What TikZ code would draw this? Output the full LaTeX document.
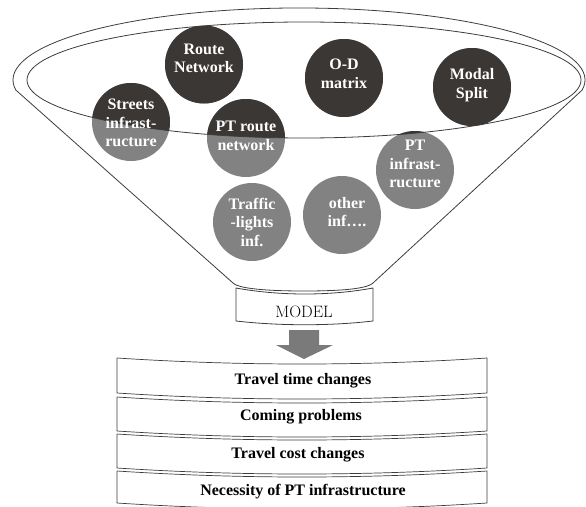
\documentclass[tikz,border=0pt]{standalone}
\usepackage{fontspec}
\newfontfamily\tnr{Liberation Serif}
\definecolor{darkc}{HTML}{3A3735}
\definecolor{grayc}{HTML}{828282}
\definecolor{arrowc}{HTML}{7A7A7A}
\definecolor{linec}{HTML}{3C3C3C}
\tikzset{
  circ/.style={circle, minimum size=78pt, inner sep=0pt, fill=grayc},
  ctext/.style={text=white, align=center, inner sep=0pt, font=\tnr\bfseries\fontsize{16}{18.5}\selectfont},
  btext/.style={text=black, inner sep=0pt, font=\tnr\bfseries\fontsize{16}{18.5}\selectfont},
  fline/.style={draw=linec, line width=0.8pt},
}
\begin{document}
\begin{tikzpicture}[x=1pt,y=1pt]
\useasboundingbox (0,0) rectangle (586,-506);
% gray circles
\node[circ] (route) at (204,-64.5) {};
\node[circ] (od) at (344,-78) {};
\node[circ] (modal) at (472,-87) {};
\node[circ] (streets) at (131,-122) {};
\node[circ] (ptroute) at (246,-138) {};
\node[circ] (ptinf) at (415,-170) {};
\node[circ] (traffic) at (252,-222) {};
\node[circ] (other) at (342,-215) {};
% dark parts inside inner ellipse
\begin{scope}
  \clip (304,-80) ellipse[x radius=277, y radius=58];
  \foreach \n in {route,od,modal,streets,ptroute,ptinf,traffic,other}
    \fill[darkc] (\n.center) circle[radius=39];
\end{scope}
% funnel outline
\draw[fline] (373,-283) -- (582.2,-90) arc[start angle=-8, end angle=188, x radius=286, y radius=72]
  -- (233,-283) .. controls (240,-290) and (280,-291) .. (304,-291)
  .. controls (330,-291) and (366,-290) .. (373,-283);
\draw[fline] (304,-80) ellipse[x radius=277, y radius=58];
% neck box
\draw[fline] (236,-288) .. controls (280,-296) and (330,-296) .. (373,-288) -- (373,-321)
  .. controls (330,-326) and (280,-326) .. (236,-321) -- cycle;
\node[inner sep=0pt, font=\fontsize{16.5}{18}\selectfont] (model) at (304,-312) {MODEL};
% circle texts
\node[ctext] (routeT) at ([yshift=6]route.center) {Route\\Network};
\node[ctext] (odT) at ([yshift=4]od.center) {O-D\\matrix};
\node[ctext] (modalT) at ([yshift=2]modal.center) {Modal\\Split};
\node[ctext] (streetsT) at ([yshift=-1]streets.center) {Streets\\infrast-\\ructure};
\node[ctext] (ptrouteT) at ([yshift=2]ptroute.center) {PT route\\network};
\node[ctext] (ptinfT) at ([yshift=6]ptinf.center) {PT\\infrast-\\ructure};
\node[ctext] (trafficT) at ([yshift=0]traffic.center) {Traffic\\-lights\\inf.};
\node[ctext] (otherT) at ([xshift=5,yshift=3]other.center) {other\\inf….};
% result boxes
\foreach \yt/\yb in {358/393, 397/431, 434/468, 471/503} {
  \draw[fline, line width=0.7pt] (117,-\yt) -- (117,-\yb) .. controls (240,-\yb-8) and (364,-\yb-8) .. (487,-\yb)
    -- (487,-\yt) .. controls (364,-\yt-8) and (240,-\yt-8) .. (117,-\yt);
}
\node[btext] (r1) at (303,-381) {Travel time changes};
\node[btext] (r2) at (301,-417) {Coming problems};
\node[btext] (r3) at (298,-455) {Travel cost changes};
\node[btext] (r4) at (303,-492) {Necessity of PT infrastructure};
% block arrow from model to results
\coordinate (atop) at ([yshift=-18]model.center);
\fill[arrowc] ([xshift=-15]atop) -- ([xshift=15]atop) -- ([xshift=15,yshift=-15]atop)
  -- ([xshift=29,yshift=-15]atop) -- ([xshift=0,yshift=-29]atop) -- ([xshift=-28,yshift=-15]atop)
  -- ([xshift=-15,yshift=-15]atop) -- cycle;
\end{tikzpicture}
\end{document}
